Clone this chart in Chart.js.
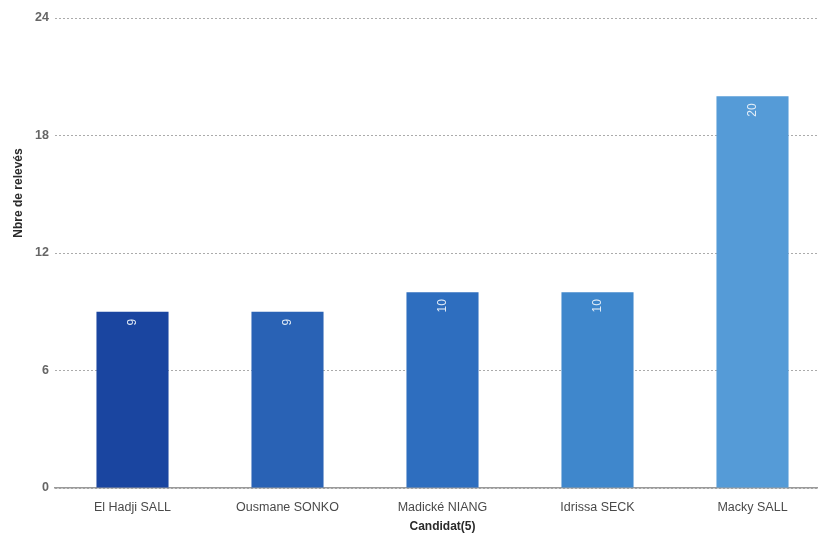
<!DOCTYPE html>
<html>
<head>
<meta charset="utf-8">
<script src="https://cdn.jsdelivr.net/npm/chart.js@4/dist/chart.umd.min.js"></script>
<style>
html,body{margin:0;padding:0;background:#fff;overflow:hidden;}
#wrap{width:830px;height:535px;}
</style>
</head>
<body>
<div id="wrap"><canvas id="c" width="830" height="535"></canvas></div>
<script>
const categories = ["El Hadji SALL", "Ousmane SONKO", "Madické NIANG", "Idrissa SECK", "Macky SALL"];
const releves = [9, 9, 10, 10, 20];
const barColors = ["#1a45a0", "#2962b5", "#2e6ebf", "#3f87cc", "#559bd7"];
const yTicks = [0, 6, 12, 18, 24];
const yTitle = "Nbre de relevés";
const xTitle = "Candidat(5)";

const FONT = "'Liberation Sans', Arial, sans-serif";

const barLabels = {
  id: 'barLabels',
  afterDatasetsDraw(chart) {
    const ctx = chart.ctx;
    const meta = chart.getDatasetMeta(0);
    ctx.save();
    ctx.font = "12px " + FONT;
    ctx.fillStyle = "rgba(235,242,250,0.95)";
    meta.data.forEach((bar, i) => {
      ctx.save();
      ctx.translate(bar.x, bar.y + 7);
      ctx.rotate(-Math.PI / 2);
      ctx.textAlign = "right";
      ctx.textBaseline = "middle";
      ctx.fillText(String(releves[i]), 0, 0);
      ctx.restore();
    });
    ctx.restore();
  }
};

const yTitlePlugin = {
  id: 'yTitlePlugin',
  afterDraw(chart) {
    const ctx = chart.ctx;
    ctx.save();
    ctx.translate(19, 193);
    ctx.rotate(-Math.PI / 2);
    ctx.font = "bold 12px " + FONT;
    ctx.fillStyle = "#2a2a2a";
    ctx.textAlign = "center";
    ctx.textBaseline = "middle";
    ctx.fillText(yTitle, 0, 0);
    ctx.restore();
  }
};

new Chart(document.getElementById('c'), {
  type: 'bar',
  data: {
    labels: categories,
    datasets: [{
      data: releves,
      backgroundColor: barColors,
      borderWidth: 0,
      categoryPercentage: 1,
      barPercentage: 0.465
    }]
  },
  options: {
    responsive: false,
    animation: false,
    events: [],
    layout: { padding: { top: 18, left: 0, right: 0, bottom: 0 } },
    plugins: { legend: { display: false }, tooltip: { enabled: false } },
    scales: {
      x: {
        grid: { display: false, drawTicks: false },
        border: { display: true, color: "#9a9a9a", width: 1.5 },
        ticks: { color: "#4a4a4a", font: { family: FONT, size: 12.5 }, padding: 12, maxRotation: 0, autoSkip: false },
        title: { display: true, text: xTitle, color: "#2a2a2a", font: { family: FONT, size: 12, weight: 'bold' }, padding: { top: 0, bottom: 1 } },
        afterFit(s) { s.height = 47; }
      },
      y: {
        min: 0, max: 24,
        afterBuildTicks(s) { s.ticks = yTicks.map(v => ({ value: v })); },
        grid: { color: "#ababab", drawTicks: false, lineWidth: 1 },
        border: { display: false, dash: [2, 2] },
        ticks: { color: "#666", font: { family: FONT, size: 12.5, weight: 'bold' }, padding: 6 },
        afterFit(s) { s.width = 55; }
      }
    }
  },
  plugins: [barLabels, yTitlePlugin]
});
</script>
</body>
</html>
